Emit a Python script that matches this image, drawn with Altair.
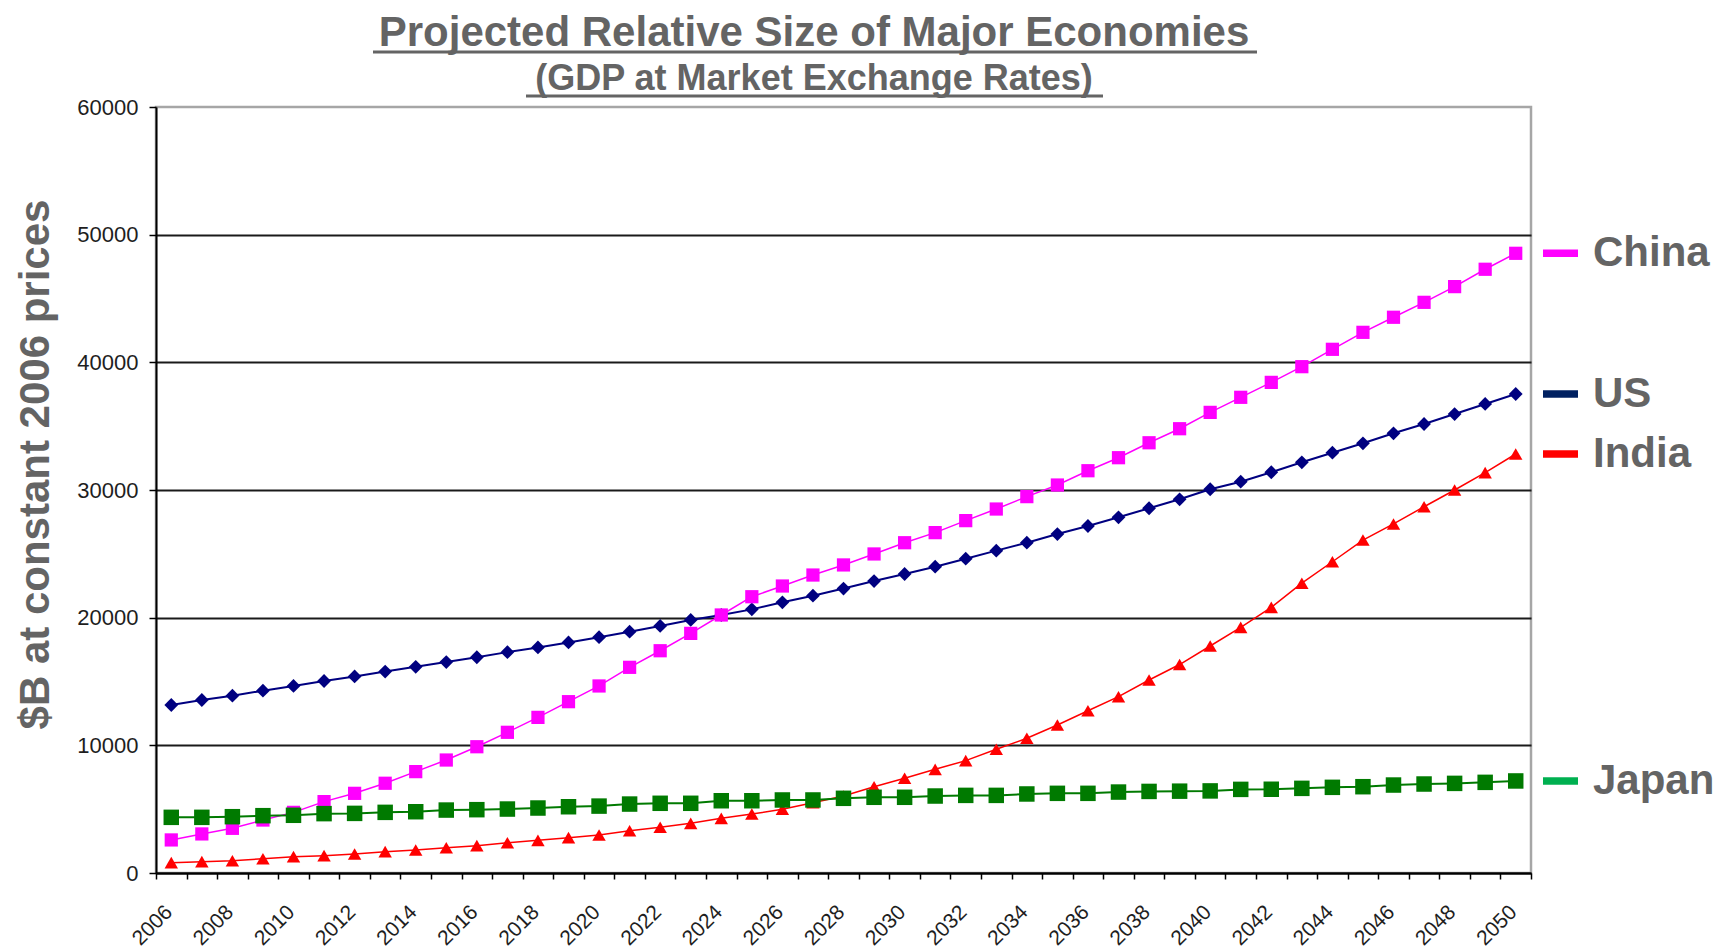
import altair as alt
import pandas as pd

# ---------------- data ----------------
years = list(range(2006, 2051))

china = [2590, 3060, 3500, 4150, 4750, 5590, 6240, 7030, 7940, 8850,
         9890, 11020, 12190, 13420, 14650, 16110, 17410, 18770, 20210, 21640,
         22480, 23340, 24130, 24990, 25870, 26660, 27600, 28510, 29480, 30390,
         31510, 32530, 33700, 34800, 36080, 37260, 38430, 39660, 41020, 42350,
         43530, 44700, 45930, 47290, 48540]

us = [13160, 13550, 13890, 14280, 14650, 15040, 15400, 15780, 16150, 16520,
      16900, 17300, 17670, 18060, 18470, 18900, 19350, 19820, 20210, 20650,
      21200, 21720, 22280, 22870, 23420, 23990, 24620, 25250, 25870, 26550,
      27180, 27860, 28570, 29270, 30060, 30650, 31390, 32170, 32920, 33660,
      34440, 35170, 35950, 36740, 37520]

india = [810, 890, 960, 1120, 1280, 1360, 1490, 1670, 1800, 1980,
         2140, 2370, 2560, 2770, 2980, 3310, 3580, 3890, 4280, 4620,
         4990, 5510, 6030, 6760, 7420, 8120, 8800, 9690, 10550, 11590,
         12710, 13810, 15120, 16330, 17780, 19240, 20810, 22700, 24380, 26080,
         27340, 28690, 30000, 31360, 32820]

japan = [4360, 4360, 4410, 4490, 4520, 4650, 4670, 4750, 4800, 4930,
         4960, 5010, 5090, 5190, 5240, 5400, 5460, 5460, 5660, 5660,
         5720, 5720, 5850, 5930, 5930, 6030, 6080, 6080, 6190, 6240,
         6240, 6340, 6390, 6410, 6430, 6550, 6560, 6630, 6710, 6760,
         6890, 6970, 7020, 7100, 7210]

series_names = ["China", "US", "India", "Japan"]
y_ticks = [0, 10000, 20000, 30000, 40000, 50000, 60000]

title_text = "Projected Relative Size of Major Economies"
subtitle_text = "(GDP at Market Exchange Rates)"
y_title = "$B at constant 2006 prices"

# ---------------- styling ----------------
FONT = "Liberation Sans"
GRAY = "#646464"
W, H = 1375, 766

style = {
    "US":    dict(color="#000080", shape="diamond", size=190, sw=2.0, legend="#002060"),
    "India": dict(color="#FF0000", shape="triangle-up", size=180, sw=1.5, legend="#FF0000"),
    "China": dict(color="#FF00FF", shape="square", size=175, sw=1.5, legend="#FF00FF"),
    "Japan": dict(color="#007A00", shape="square", size=240, sw=2.0, legend="#00B050"),
}

values_by_series = {"China": china, "US": us, "India": india, "Japan": japan}

rows = []
for name in series_names:
    for yr, v in zip(years, values_by_series[name]):
        rows.append({"year": yr, "value": v, "series": name})
df = pd.DataFrame(rows)

# category boundaries (Excel-like category axis, ticks between categories)
x_bounds = [y - 0.5 for y in years] + [years[-1] + 0.5]

x_enc = alt.X(
    "year:Q",
    title=None,
    scale=alt.Scale(domain=[x_bounds[0], x_bounds[-1]], nice=False, zero=False),
    axis=alt.Axis(
        values=x_bounds,
        labelExpr="(datum.value + 0.5) % 2 == 0 ? '' + (datum.value + 0.5) : ''",
        labelAngle=-45, labelAlign="right", labelBaseline="top",
        labelPadding=22, labelOffset=5, labelOverlap=False, labelFlush=False,
        labelBound=False,
        labelFont=FONT, labelFontSize=21, labelColor="#1e1e1e",
        tickSize=6, tickColor="#000000", tickWidth=1.5,
        domainColor="#000000", domainWidth=2, grid=False,
    ),
)

y_enc = alt.Y(
    "value:Q",
    title=y_title,
    scale=alt.Scale(domain=[0, 60000], nice=False),
    axis=alt.Axis(
        values=y_ticks, format="d",
        labelFont=FONT, labelFontSize=22, labelColor="#1e1e1e", labelPadding=11,
        tickSize=7, tickColor="#000000", tickWidth=1.5,
        domainColor="#000000", domainWidth=2,
        grid=True, gridColor="#1a1a1a", gridWidth=2,
        gridOpacity={"condition": {"test": "datum.value >= 60000", "value": 0}, "value": 1},
        titleFont=FONT, titleFontSize=42, titleFontWeight="bold", titleColor=GRAY,
        titleAngle=270, titleAlign="center", titleBaseline="middle",
        titleX=-121, titleY=357,
    ),
)

layers = []
for name in ["US", "India", "China", "Japan"]:
    s = style[name]
    sub = alt.Chart(df).transform_filter(alt.datum.series == name)
    layers.append(sub.mark_line(color=s["color"], strokeWidth=s["sw"]).encode(x=x_enc, y=y_enc))
    layers.append(sub.mark_point(shape=s["shape"], size=s["size"], filled=True,
                                 color=s["color"], opacity=1).encode(x=x_enc, y=y_enc))

# legend, placed at each series' last value
legend_df = pd.DataFrame({
    "series": series_names,
    "value": [values_by_series[n][-1] for n in series_names],
})
leg_scale = alt.Scale(domain=series_names, range=[style[n]["legend"] for n in series_names])
legend_swatch = alt.Chart(legend_df).mark_rule(strokeWidth=7.5).encode(
    x=alt.value(1387), x2=alt.value(1422), y=y_enc,
    color=alt.Color("series:N", scale=leg_scale, legend=None),
)
legend_text = alt.Chart(legend_df).mark_text(
    font=FONT, fontSize=42, fontWeight="bold", color=GRAY, align="left", baseline="middle"
).encode(x=alt.value(1437), y=y_enc, text="series:N")

# titles with underline
dummy = pd.DataFrame({"t": [title_text], "s": [subtitle_text]})
title_mark = alt.Chart(dummy).mark_text(
    font=FONT, fontSize=42, fontWeight="bold", color=GRAY, align="center", baseline="alphabetic"
).encode(x=alt.value(658), y=alt.value(-61), text="t:N")
title_line = alt.Chart(dummy).mark_rule(color=GRAY, strokeWidth=3).encode(
    x=alt.value(217), x2=alt.value(1101), y=alt.value(-55))
sub_mark = alt.Chart(dummy).mark_text(
    font=FONT, fontSize=36, fontWeight="bold", color=GRAY, align="center", baseline="alphabetic"
).encode(x=alt.value(658), y=alt.value(-17), text="s:N")
sub_line = alt.Chart(dummy).mark_rule(color=GRAY, strokeWidth=3).encode(
    x=alt.value(370), x2=alt.value(947), y=alt.value(-11))

chart = alt.layer(
    *layers, legend_swatch, legend_text, title_mark, title_line, sub_mark, sub_line
).properties(
    width=W, height=H,
    autosize=alt.AutoSizeParams(type="none"),
    padding={"left": 156, "top": 107, "right": 187, "bottom": 75},
    background="white",
).configure_view(
    stroke="#a6a6a6", strokeWidth=2.5
)

chart.save("out.html", embed_options={"renderer": "svg", "actions": False})
